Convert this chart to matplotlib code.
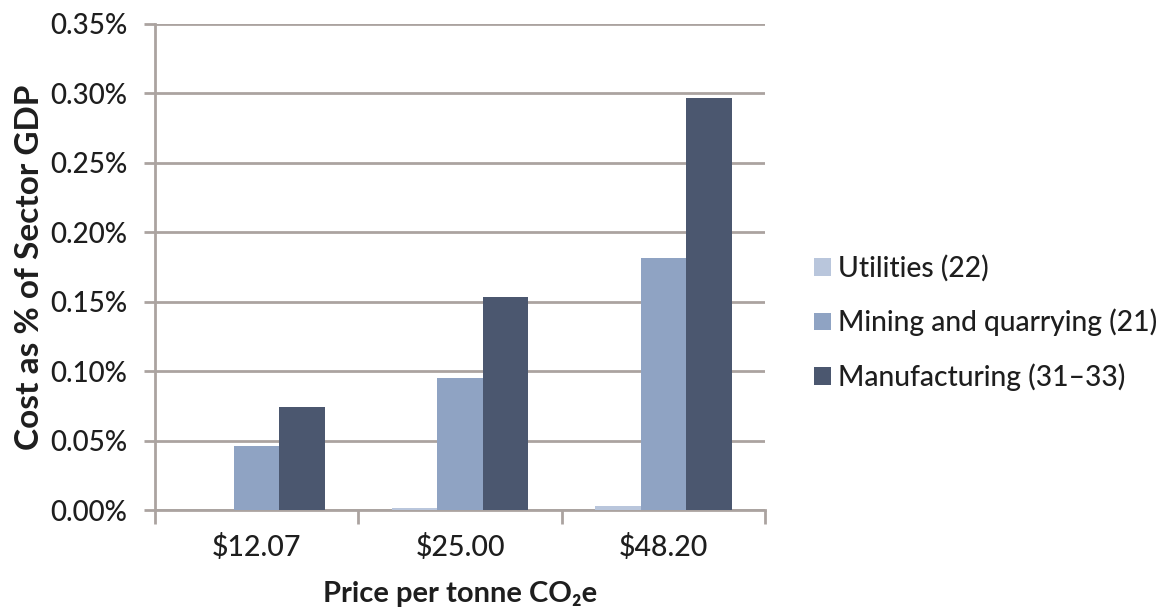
import numpy as np
import matplotlib
matplotlib.use("Agg")
import matplotlib.pyplot as plt
from matplotlib.ticker import FixedLocator, FuncFormatter

# values (% of sector GDP)
prices = ["$12.07", "$25.00", "$48.20"]
series_names = ["Utilities (22)", "Mining and quarrying (21)", "Manufacturing (31\u201333)"]
utilities = [0.0005, 0.0016, 0.0034]
mining = [0.0463, 0.0953, 0.1818]
manufacturing = [0.0746, 0.1536, 0.2964]
colors = ["#B9C6DC", "#8FA3C3", "#4B576F"]

plt.rcParams['font.family'] = ['Lato', 'DejaVu Sans']
grid_col = "#ABA3A0"
txt_col = "#1E1E1E"

fig = plt.figure(figsize=(11.7, 6.14), dpi=100)
ax = fig.add_axes([0.1325, 0.1686, 0.5215, 0.7924])

x = np.arange(len(prices))
w = 0.224
for i, (vals, name) in enumerate(zip([utilities, mining, manufacturing], series_names)):
    ax.bar(x + (i - 1) * w, vals, width=w, color=colors[i], label=name, zorder=3)

ax.set_xlim(-0.5, len(prices) - 0.5)
ax.set_ylim(0, 0.35)
ax.set_yticks(np.arange(0, 0.351, 0.05))
ax.yaxis.set_major_formatter(FuncFormatter(lambda v, p: f"{v:.2f}%"))
ax.yaxis.grid(True, color=grid_col, linewidth=2, zorder=0)

# category labels in the middle, tick marks between categories
ax.set_xticks(x)
ax.set_xticklabels(prices)
ax.xaxis.set_minor_locator(FixedLocator(np.arange(-0.5, len(prices), 1.0)))
ax.tick_params(axis='x', which='major', length=0, pad=17, labelsize=20.5, labelcolor=txt_col)
ax.tick_params(axis='x', which='minor', length=10, width=2, color=grid_col)
ax.tick_params(axis='y', length=8, width=2, color=grid_col, labelsize=20, labelcolor=txt_col, pad=12)
for lab in ax.get_xticklabels() + ax.get_yticklabels():
    lab.set_fontweight('medium')

for s in ['top', 'right']:
    ax.spines[s].set_visible(False)
for s in ['left', 'bottom']:
    ax.spines[s].set_color(grid_col)
    ax.spines[s].set_linewidth(2)

ax.set_ylabel("Cost as % of Sector GDP", fontsize=24, fontweight='bold', color=txt_col, labelpad=4)
ax.set_xlabel("Price per tonne CO\u2082e", fontsize=21, fontweight='bold', color=txt_col, labelpad=14)

leg = fig.legend(loc='center left', bbox_to_anchor=(0.684, 0.474), frameon=False, fontsize=20.3,
                 borderpad=0, handlelength=0.6, handleheight=0.6, handletextpad=0.25,
                 labelspacing=0.95, labelcolor=txt_col)
for t in leg.get_texts():
    t.set_fontweight('medium')

plt.savefig("out.png", dpi=100)
